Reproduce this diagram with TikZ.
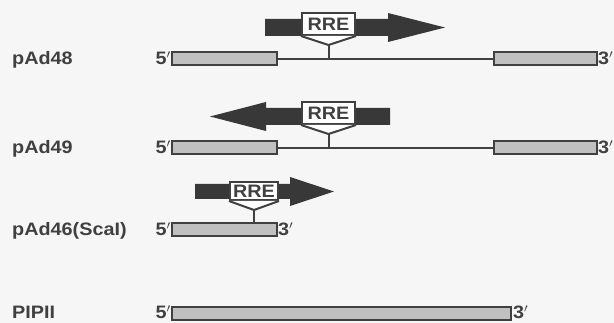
\documentclass[tikz,border=0pt]{standalone}
\usepackage{fontspec}
\setmainfont{Liberation Sans}
\definecolor{ink}{HTML}{404040}
\definecolor{dark}{HTML}{383838}
\definecolor{stip}{HTML}{C0C0C0}
\definecolor{bg}{HTML}{F6F6F6}
\newcommand\sxlbl[1]{\scalebox{1.1}[1]{#1}}
\begin{document}
\begin{tikzpicture}[x=1pt,y=-1pt,
  txt/.style={inner sep=0pt, text=ink, font=\fontsize{18}{18}\selectfont\bfseries},
  seg/.style={draw=ink, line width=2pt, fill=stip, minimum height=13pt, inner sep=0pt},
  rrebox/.style={draw=ink, line width=2pt, fill=white, inner sep=0pt, text=ink,
    font=\fontsize{18}{18}\selectfont\bfseries},
  conn/.style={draw=ink, line width=2pt},
  bigarrow/.style={fill=dark}]
\useasboundingbox (0,0) rectangle (614,323);
\fill[bg] (0,0) rectangle (614,323);

% ---------- row 1: pAd48 ----------
\node[seg, minimum width=105pt] (L1) at (224.5,59) {};
\node[seg, minimum width=103pt] (R1) at (545.5,59) {};
\draw[conn] (L1.east) -- (R1.west);
\node[txt, anchor=base west] (n1) at (12,64.5) {\sxlbl{pAd48}};
\node[txt, anchor=base east] (f1) at (171,65) {\sxlbl{5$'$}};
\node[txt, anchor=base west] (t1) at (598,65) {\sxlbl{3$'$}};
\path[bigarrow] (265,19) -- (388,19) -- (388,13) -- (445,27.5) -- (388,42) -- (388,36) -- (265,36) -- cycle;
\node[rrebox, minimum width=53pt, minimum height=22pt] (E1) at (328.5,24) {\sxlbl{RRE}};
\coordinate (V1) at (328.5,45);
\draw[conn, fill=white, line join=miter] (E1.south west) -- (V1) -- (E1.south east);
\draw[conn] (V1) -- (V1 |- L1.east);

% ---------- row 2: pAd49 ----------
\node[seg, minimum width=105pt] (L2) at (224.5,148) {};
\node[seg, minimum width=103pt] (R2) at (545.5,148) {};
\draw[conn] (L2.east) -- (R2.west);
\node[txt, anchor=base west] (n2) at (12,153.5) {\sxlbl{pAd49}};
\node[txt, anchor=base east] (f2) at (171,154) {\sxlbl{5$'$}};
\node[txt, anchor=base west] (t2) at (598,154) {\sxlbl{3$'$}};
\path[bigarrow] (390,108) -- (266,108) -- (266,102) -- (210,116.5) -- (266,131) -- (266,125) -- (390,125) -- cycle;
\node[rrebox, minimum width=53pt, minimum height=22pt] (E2) at (328.5,113) {\sxlbl{RRE}};
\coordinate (V2) at (328.5,134);
\draw[conn, fill=white, line join=miter] (E2.south west) -- (V2) -- (E2.south east);
\draw[conn] (V2) -- (V2 |- L2.east);

% ---------- row 3: pAd46(ScaI) ----------
\node[seg, minimum width=105pt] (L3) at (224.5,230) {};
\node[txt, anchor=base west] (n3) at (12,236) {\sxlbl{pAd46(ScaI)}};
\node[txt, anchor=base east] (f3) at (171,236) {\sxlbl{5$'$}};
\node[txt, anchor=base west] (t3) at (278,236) {\sxlbl{3$'$}};
\path[bigarrow] (195,184) -- (290,184) -- (290,177) -- (334,191.5) -- (290,206) -- (290,199) -- (195,199) -- cycle;
\node[rrebox, minimum width=48pt, minimum height=18pt] (E3) at (254,191) {\sxlbl{RRE}};
\coordinate (V3) at (254,210);
\draw[conn, fill=white, line join=miter] (E3.south west) -- (V3) -- (E3.south east);
\draw[conn] (V3) -- (V3 |- L3.north);

% ---------- row 4: PIPII ----------
\node[seg, minimum width=339pt] (P4) at (341.5,314) {};
\node[txt, anchor=base west] (n4) at (12,319) {\sxlbl{PIPII}};
\node[txt, anchor=base east] (f4) at (171,319) {\sxlbl{5$'$}};
\node[txt, anchor=base west] (t4) at (513,319) {\sxlbl{3$'$}};
\end{tikzpicture}
\end{document}
